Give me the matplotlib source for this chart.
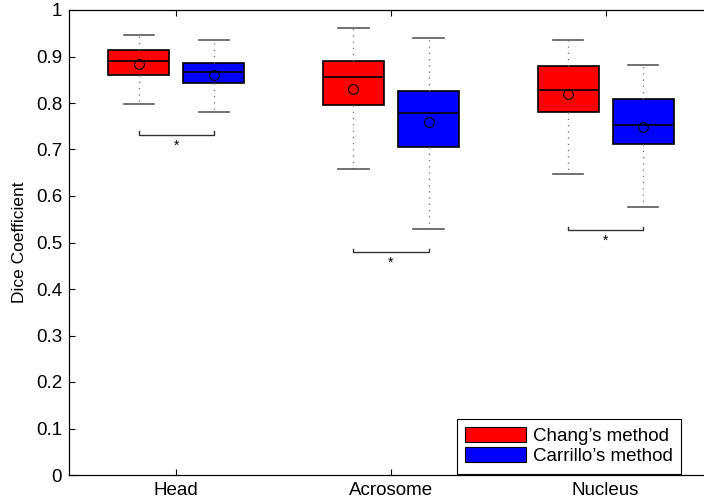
import matplotlib.pyplot as plt
from matplotlib.patches import Patch
import numpy as np

plt.rcParams['font.family'] = ['Liberation Sans', 'DejaVu Sans']
plt.rcParams['font.size'] = 13.5

# Dice coefficient summary per region and method
regions = ["Head", "Acrosome", "Nucleus"]
methods = ["Chang’s method", "Carrillo’s method"]
colors = ["#ff0000", "#0000ff"]

chang_whislo = [0.797, 0.658, 0.647]
chang_q1 = [0.861, 0.795, 0.781]
chang_med = [0.891, 0.856, 0.829]
chang_q3 = [0.914, 0.891, 0.879]
chang_whishi = [0.947, 0.962, 0.935]
chang_mean = [0.884, 0.830, 0.820]

carrillo_whislo = [0.781, 0.529, 0.576]
carrillo_q1 = [0.842, 0.705, 0.711]
carrillo_med = [0.867, 0.778, 0.753]
carrillo_q3 = [0.885, 0.826, 0.808]
carrillo_whishi = [0.935, 0.939, 0.881]
carrillo_mean = [0.861, 0.759, 0.748]

# significance brackets (level of the bracket line)
bracket_level = [0.732, 0.479, 0.527]


def make_stats(lo, q1, med, q3, hi, mean):
    return [dict(whislo=a, q1=b, med=c, q3=d, whishi=e, mean=f, fliers=[])
            for a, b, c, d, e, f in zip(lo, q1, med, q3, hi, mean)]


stats = [
    make_stats(chang_whislo, chang_q1, chang_med, chang_q3, chang_whishi, chang_mean),
    make_stats(carrillo_whislo, carrillo_q1, carrillo_med, carrillo_q3, carrillo_whishi, carrillo_mean),
]

fig = plt.figure(figsize=(7.04, 5.01), dpi=100)
ax = fig.add_axes([69 / 704, 26 / 501, 644 / 704, 465 / 501])

x = np.arange(1, len(regions) + 1)
offset = 0.175
width = 0.284

for i, (st, col) in enumerate(zip(stats, colors)):
    pos = x + (i * 2 - 1) * offset
    ax.bxp(st, positions=pos, widths=width, capwidths=width / 2,
           patch_artist=True, showmeans=True, manage_ticks=False,
           boxprops=dict(facecolor=col, edgecolor='black', linewidth=1.2),
           medianprops=dict(color='black', linewidth=1.2),
           whiskerprops=dict(color='0.45', linestyle=(0, (1, 4)), linewidth=0.9),
           capprops=dict(color='0.35', linewidth=1.2),
           meanprops=dict(marker='o', markerfacecolor='none',
                          markeredgecolor='black', markersize=7, markeredgewidth=0.8))

# brackets with stars
tick_h = 0.007
for xi, lvl in zip(x, bracket_level):
    xa, xb = xi - offset, xi + offset
    ax.plot([xa, xa, xb, xb], [lvl + tick_h, lvl, lvl, lvl + tick_h],
            color='0.2', linewidth=1.0)
    ax.text(xi, lvl - 0.008, '*', ha='center', va='top', fontsize=10)

ax.set_xlim(0.5, 3.5)
ax.set_ylim(0, 1)
ax.set_xticks(x)
ax.set_xticklabels(regions)
ax.set_yticks(np.arange(0, 1.01, 0.1))
ax.set_yticklabels(['0', '0.1', '0.2', '0.3', '0.4', '0.5', '0.6', '0.7', '0.8', '0.9', '1'])
ax.tick_params(direction='in', length=4, width=0.8, top=True, right=True, pad=5)
ax.set_ylabel("Dice Coefficient", fontsize=12.5, labelpad=6)
for s in ax.spines.values():
    s.set_linewidth(0.9)

handles = [Patch(facecolor=c, edgecolor='black', linewidth=0.8) for c in colors]
leg = fig.legend(handles, methods, loc='upper left',
                 bbox_to_anchor=(457 / 704, 1 - 419 / 501),
                 bbox_transform=fig.transFigure, borderaxespad=0,
                 fancybox=False, edgecolor='black', framealpha=1,
                 handlelength=3.25, handleheight=0.85, handletextpad=0.35,
                 labelspacing=0.1, borderpad=0.45, fontsize=13.5)
leg.get_frame().set_linewidth(0.8)

fig.savefig("out.png", dpi=100)
